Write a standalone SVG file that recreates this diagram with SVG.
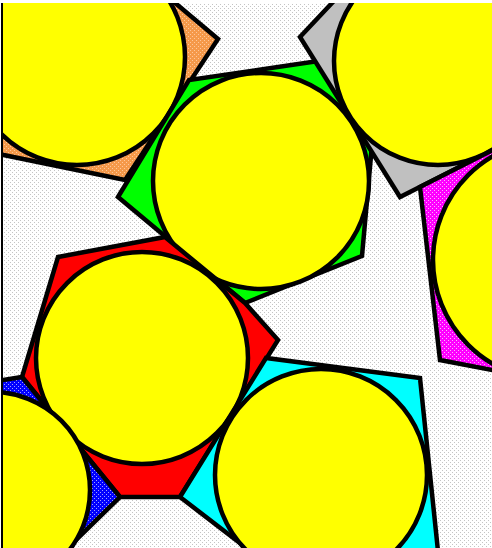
<svg xmlns="http://www.w3.org/2000/svg" width="492" height="548" viewBox="0 0 492 548">
<defs>
<pattern id="bg" width="4" height="4" patternUnits="userSpaceOnUse"><rect width="4" height="4" fill="#ffffff"/><rect x="0" y="0" width="1" height="1" fill="#c4c4c4"/><rect x="2" y="2" width="1" height="1" fill="#c4c4c4"/></pattern>
<pattern id="pm" width="4" height="4" patternUnits="userSpaceOnUse"><rect width="4" height="4" fill="#ff00ff"/><rect x="0" y="0" width="1" height="1" fill="#ffb0ff"/><rect x="2" y="2" width="1" height="1" fill="#ffb0ff"/></pattern>
<pattern id="pb" width="4" height="4" patternUnits="userSpaceOnUse"><rect width="4" height="4" fill="#0000ff"/><rect x="0" y="0" width="1" height="1" fill="#a0a0ff"/><rect x="2" y="2" width="1" height="1" fill="#a0a0ff"/></pattern>
<pattern id="po" width="4" height="4" patternUnits="userSpaceOnUse"><rect width="4" height="4" fill="#f5994a"/><rect x="0" y="0" width="1" height="1" fill="#ffc89a"/><rect x="2" y="2" width="1" height="1" fill="#ffc89a"/></pattern>
<clipPath id="frame"><rect x="3" y="3" width="489" height="545"/></clipPath>
</defs>
<style>
.poly{stroke:#000;stroke-width:4.5;stroke-linejoin:miter;stroke-miterlimit:20}
.ball{fill:#ffff00;stroke:#000;stroke-width:4.5}
</style>
<rect width="492" height="548" fill="#ffffff"/>
<g clip-path="url(#frame)">
<rect x="0" y="0" width="492" height="548" fill="url(#bg)"/>
<g id="cell-orange">
<polygon class="poly" fill="url(#po)" points="136,-30 218,39 125,180 -40,146 -40,-30"/>
<circle class="ball" cx="77" cy="57" r="108"/>
</g>
<g id="cell-green">
<polygon class="poly" fill="#00ff00" points="118,197 189,80 380,52 370,167 362,256 245,303"/>
<circle class="ball" cx="261" cy="181" r="108"/>
</g>
<g id="cell-gray">
<polygon class="poly" fill="#c0c0c0" points="363,-30 300,37 400,197 560,116 560,-30"/>
<circle class="ball" cx="438" cy="61" r="104"/>
</g>
<g id="cell-magenta">
<polygon class="poly" fill="url(#pm)" points="420,187 560,116 560,383 440,360"/>
<circle class="ball" cx="553" cy="260" r="120"/>
</g>
<g id="cell-red">
<polygon class="poly" fill="#ff0000" points="58,257 165,237 245,303 278,340 180,497 120,497 22,377"/>
<circle class="ball" cx="142" cy="358" r="106"/>
</g>
<g id="cell-blue">
<polygon class="poly" fill="url(#pb)" points="-40,387 22,377 120,497 35,580 -40,580"/>
<circle class="ball" cx="-8" cy="490" r="98"/>
</g>
<g id="cell-cyan">
<polygon class="poly" fill="#00ffff" points="180,497 266,358 420,378 441,580 288,580"/>
<circle class="ball" cx="321" cy="475" r="106"/>
</g>
<g id="connectors"/>
</g>
<line x1="2" y1="3" x2="2" y2="548" stroke="#000" stroke-width="2"/>
</svg>
